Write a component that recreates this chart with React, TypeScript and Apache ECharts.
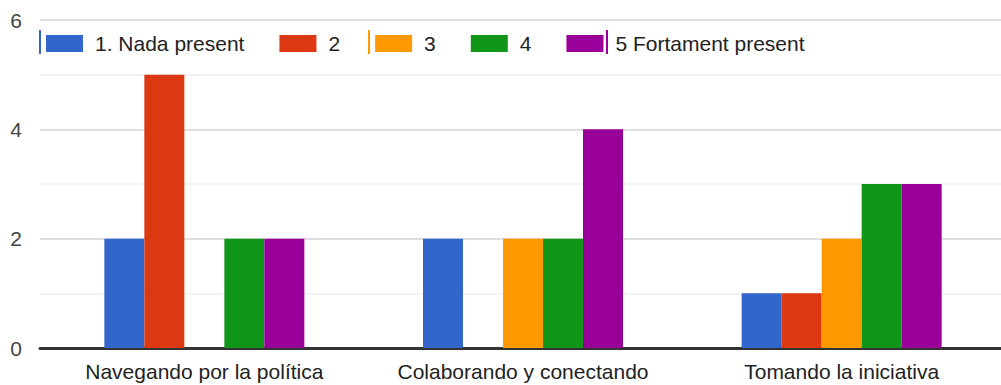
import React, { useEffect, useRef } from "react";
import * as echarts from "echarts";

const categories = ["Navegando por la política", "Colaborando y conectando", "Tomando la iniciativa"];
const seriesNames = ["1. Nada present", "2", "3", "4", "5 Fortament present"];
const seriesColors = ["#3366cc", "#dc3912", "#ff9900", "#109618", "#990099"];
const nadaPresent = [2, 2, 1];
const valor2 = [5, 0, 1];
const valor3 = [0, 2, 2];
const valor4 = [2, 2, 3];
const fortamentPresent = [2, 4, 3];
const seriesValues = [nadaPresent, valor2, valor3, valor4, fortamentPresent];
const yTicks = { min: 0, max: 6, interval: 2 };

const FONT = "'Liberation Sans', Arial, sans-serif";

export default function App() {
  const ref = useRef<HTMLDivElement>(null);
  useEffect(() => {
    if (!ref.current) return;
    const chart = echarts.init(ref.current, undefined, { renderer: "svg" });
    chart.setOption({
      animation: false,
      backgroundColor: "#ffffff",
      textStyle: { fontFamily: FONT },
      grid: [
        { left: 40, right: 0, top: 20, bottom: 37, containLabel: false },
        { left: 45, right: -5, top: 20, bottom: 37, containLabel: false },
      ],
      legend: {
        show: true,
        left: 41,
        top: 28,
        itemWidth: 37,
        itemHeight: 17,
        itemGap: 35,
        icon: "rect",
        data: seriesNames,
        textStyle: { fontSize: 21, color: "#222", fontFamily: FONT, padding: [0, 0, 0, 7] },
      },
      graphic: [
        { type: "rect", left: 39, top: 30, shape: { width: 2, height: 24 }, style: { fill: "#3366cc" } },
        { type: "rect", left: 368, top: 30, shape: { width: 2, height: 24 }, style: { fill: "#ff9900" } },
        { type: "rect", left: 606, top: 30, shape: { width: 2, height: 24 }, style: { fill: "#990099" } },
      ],
      xAxis: [
        {
          type: "category",
          gridIndex: 0,
          data: categories,
          axisLine: { show: true, lineStyle: { color: "#333", width: 3 } },
          axisTick: { show: false },
          axisLabel: { show: false },
          splitLine: { show: false },
        },
        {
          type: "category",
          gridIndex: 1,
          data: categories,
          axisLine: { show: false },
          axisTick: { show: false },
          axisLabel: { fontSize: 21, color: "#222", margin: 13, fontFamily: FONT, interval: 0, hideOverlap: false },
          splitLine: { show: false },
        },
      ],
      yAxis: [
        {
          type: "value",
          gridIndex: 0,
          min: yTicks.min,
          max: yTicks.max,
          interval: yTicks.interval,
          axisLine: { show: false },
          axisTick: { show: false },
          axisLabel: { fontSize: 21, color: "#444", margin: 18, fontFamily: FONT },
          splitLine: { show: true, lineStyle: { color: "#dedede", width: 2 } },
          minorTick: { show: false, splitNumber: 2 },
          minorSplitLine: { show: true, lineStyle: { color: "#f3f3f3", width: 2 } },
          z: 0,
        },
        {
          type: "value",
          gridIndex: 1,
          min: yTicks.min,
          max: yTicks.max,
          interval: yTicks.interval,
          show: false,
          splitLine: { show: false },
        },
      ],
      series: seriesNames.map((name, i) => ({
        name,
        type: "bar",
        xAxisIndex: 1,
        yAxisIndex: 1,
        data: seriesValues[i],
        barWidth: 40,
        barGap: "0%",
        itemStyle: { color: seriesColors[i] },
      })),
    });
    return () => chart.dispose();
  }, []);
  return <div ref={ref} style={{ position: "fixed", left: 0, top: 0, width: 1001, height: 385 }} />;
}
